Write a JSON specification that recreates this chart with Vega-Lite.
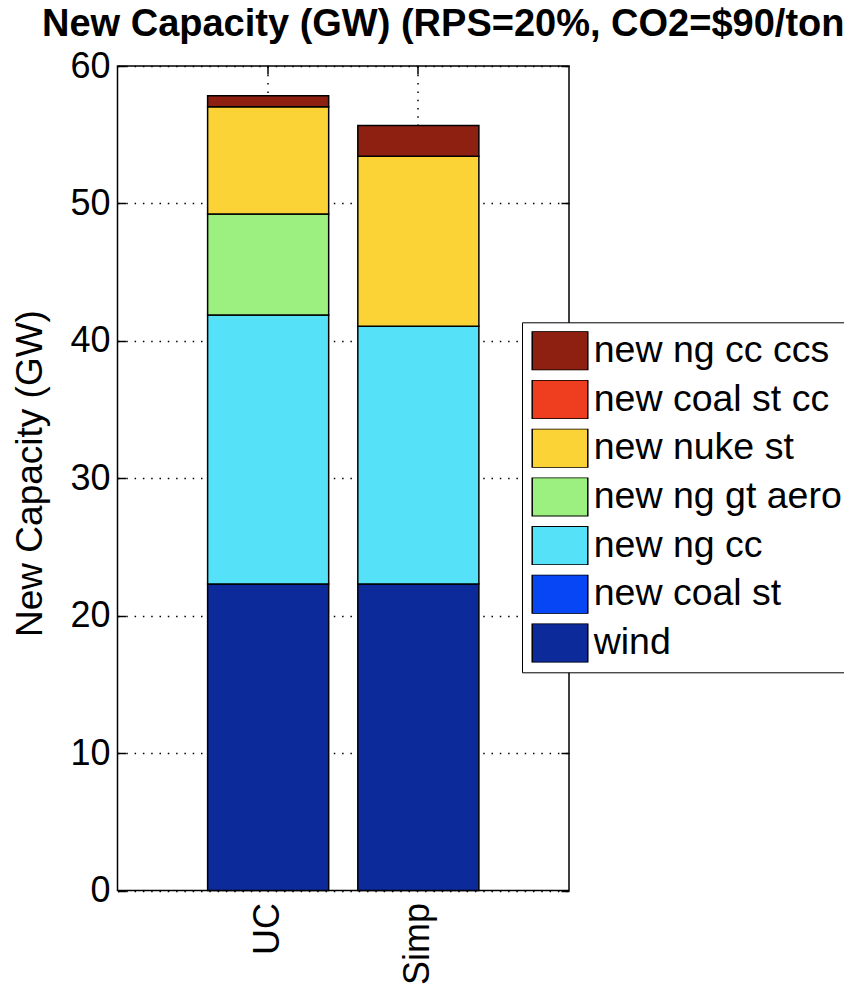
{
  "$schema": "https://vega.github.io/schema/vega-lite/v6.json",
  "autosize": "none",
  "padding": {"left": 117.5, "top": 66, "right": 275, "bottom": 95.5},
  "width": 451.5,
  "height": 824.5,
  "background": "white",
  "title": {
    "text": "New Capacity (GW) (RPS=20%, CO2=$90/ton)",
    "anchor": "start",
    "frame": "group",
    "dx": -75.5,
    "font": "Liberation Sans",
    "fontSize": 38,
    "fontWeight": "bold",
    "color": "black"
  },
  "data": {
    "values": [
      {"scenario": "UC", "tech": "wind", "gw": 22.3},
      {"scenario": "UC", "tech": "new ng cc", "gw": 19.58},
      {"scenario": "UC", "tech": "new ng gt aero", "gw": 7.35},
      {"scenario": "UC", "tech": "new nuke st", "gw": 7.8},
      {"scenario": "UC", "tech": "new ng cc ccs", "gw": 0.8},
      {"scenario": "Simp", "tech": "wind", "gw": 22.3},
      {"scenario": "Simp", "tech": "new ng cc", "gw": 18.77},
      {"scenario": "Simp", "tech": "new nuke st", "gw": 12.37},
      {"scenario": "Simp", "tech": "new ng cc ccs", "gw": 2.23}
    ]
  },
  "transform": [
    {"calculate": "indexof(['wind','new coal st','new ng cc','new ng gt aero','new nuke st','new coal st cc','new ng cc ccs'], datum.tech)", "as": "stackRank"}
  ],
  "layer": [
    {
      "mark": {"type": "bar", "stroke": "black", "strokeWidth": 1.5, "opacity": 1},
      "encoding": {
        "x": {
          "field": "scenario",
          "type": "nominal",
          "sort": ["UC", "Simp"],
          "scale": {"paddingInner": 0.194, "paddingOuter": 0.6},
          "axis": {
            "title": null,
            "labelAngle": -90,
            "labelAlign": "right",
            "labelBaseline": "middle",
            "labelPadding": 20,
            "tickSize": -8,
            "bandPosition": 0.5,
            "grid": true
          }
        },
        "y": {
          "field": "gw",
          "type": "quantitative",
          "stack": "zero",
          "scale": {"domain": [0, 60], "nice": false, "zero": true},
          "axis": {
            "title": "New Capacity (GW)",
            "values": [0, 10, 20, 30, 40, 50, 60],
            "labelPadding": 15.5,
            "tickSize": -8,
            "grid": true,
            "titleFontSize": 37,
            "titleX": -75.8,
            "titleY": 407,
            "titleAlign": "center",
            "titleBaseline": "alphabetic",
            "titleAngle": -90
          }
        },
        "order": {"field": "stackRank", "type": "quantitative", "sort": "ascending"},
        "color": {
          "field": "tech",
          "type": "nominal",
          "scale": {
            "domain": ["new ng cc ccs", "new coal st cc", "new nuke st", "new ng gt aero", "new ng cc", "new coal st", "wind"],
            "range": ["#8e2012", "#ee3d1f", "#fbd336", "#9cf07f", "#55e2f9", "#0646f5", "#0c2a9a"]
          },
          "legend": {
            "title": null,
            "orient": "none",
            "legendX": 404.5,
            "legendY": 256.3,
            "padding": 9,
            "strokeColor": "black",
            "fillColor": "white",
            "symbolType": "M-1,-0.7H1V0.7H-1Z",
            "symbolSize": 3090,
            "symbolStrokeColor": "black",
            "symbolStrokeWidth": 1.5,
            "symbolOpacity": 1,
            "clipHeight": 39,
            "rowPadding": 9.7,
            "labelOffset": 4.7,
            "labelFont": "Liberation Sans",
            "labelFontSize": 37.5,
            "labelColor": "black",
            "labelBaseline": "middle",
            "labelLimit": 600
          }
        }
      }
    },
    {
      "mark": {"type": "bar", "opacity": 0},
      "encoding": {
        "x": {
          "field": "scenario",
          "type": "nominal",
          "sort": ["UC", "Simp"],
          "axis": {
            "orient": "top",
            "title": null,
            "labels": false,
            "grid": false,
            "tickSize": -8,
            "bandPosition": 0.5
          }
        },
        "y": {
          "field": "gw",
          "type": "quantitative",
          "stack": "zero",
          "axis": {
            "orient": "right",
            "title": null,
            "labels": false,
            "grid": false,
            "tickSize": -8,
            "values": [0, 10, 20, 30, 40, 50, 60]
          }
        },
        "order": {"field": "stackRank", "type": "quantitative", "sort": "ascending"}
      }
    }
  ],
  "resolve": {"axis": {"x": "independent", "y": "independent"}},
  "config": {
    "view": {"stroke": "black", "strokeWidth": 1.5},
    "axis": {
      "domain": false,
      "labelFont": "Liberation Sans",
      "labelFontSize": 36,
      "labelColor": "black",
      "titleFont": "Liberation Sans",
      "titleFontSize": 36,
      "titleFontWeight": "normal",
      "titleColor": "black",
      "tickColor": "black",
      "tickWidth": 1.5,
      "gridColor": "black",
      "gridOpacity": 1,
      "gridWidth": 1.5,
      "gridDash": [1.5, 6.8]
    }
  }
}
